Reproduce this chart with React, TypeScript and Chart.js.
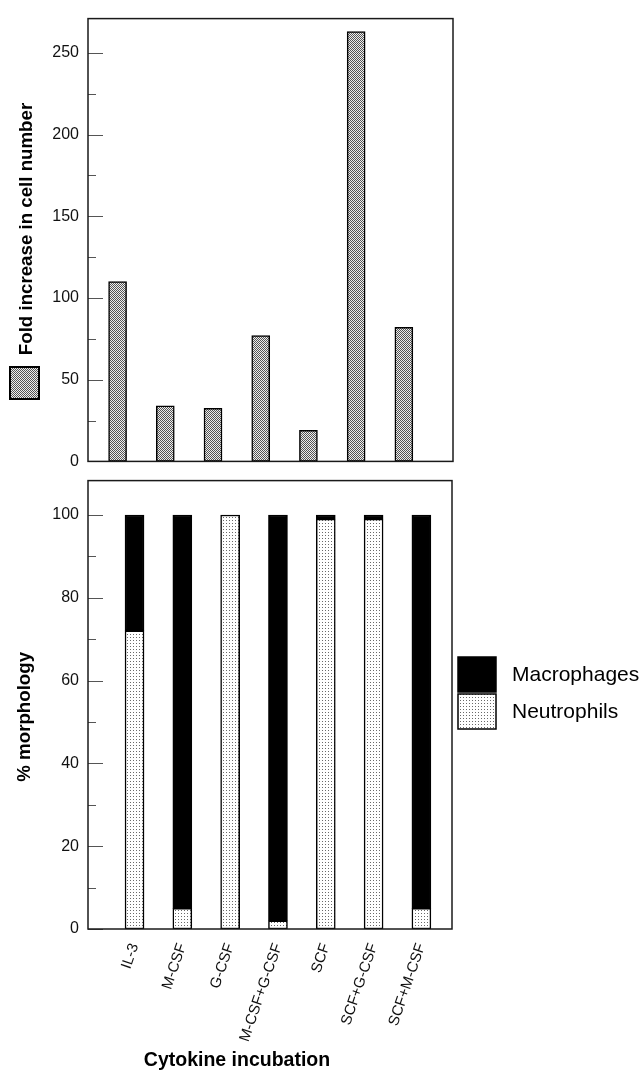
import React, { useEffect, useRef } from 'react';
import { Chart, registerables } from 'chart.js';

Chart.register(...registerables);

const categories = ['IL-3', 'M-CSF', 'G-CSF', 'M-CSF+G-CSF', 'SCF', 'SCF+G-CSF', 'SCF+M-CSF'];
const foldIncrease = [110, 34, 32.5, 77, 19, 263, 82];
const neutrophils = [72, 5, 100, 2, 99, 99, 5];
const macrophages = [28, 95, 0, 98, 1, 1, 95];
const foldTickValues = [0, 50, 100, 150, 200, 250];
const morphTickValues = [0, 20, 40, 60, 80, 100];

const FONT = '"Liberation Sans", Arial, Helvetica, sans-serif';

function makePattern(size: number, draw: (ctx: CanvasRenderingContext2D) => void) {
  const c = document.createElement('canvas');
  c.width = size;
  c.height = size;
  const ctx = c.getContext('2d')!;
  draw(ctx);
  const main = document.createElement('canvas').getContext('2d')!;
  return main.createPattern(c, 'repeat')!;
}

function grayPattern() {
  return makePattern(2, (ctx) => {
    ctx.fillStyle = '#eeeeee';
    ctx.fillRect(0, 0, 2, 2);
    ctx.fillStyle = '#555555';
    ctx.fillRect(0, 0, 1, 1);
    ctx.fillRect(1, 1, 1, 1);
  });
}

function dotPattern() {
  return makePattern(3, (ctx) => {
    ctx.fillStyle = '#ffffff';
    ctx.fillRect(0, 0, 3, 3);
    ctx.fillStyle = '#6a6a6a';
    ctx.fillRect(1, 1, 1, 1);
  });
}

const framePlugin = {
  id: 'frameTicks',
  afterDraw(chart: any, _args: any, opts: any) {
    const ctx = chart.ctx;
    const { left, right, top, bottom } = chart.chartArea;
    const y = chart.scales.y;
    ctx.save();
    // inward tick marks
    ctx.strokeStyle = '#555';
    ctx.lineWidth = 1;
    for (let v = 0; v <= y.max + 1e-6; v += opts.minorStep) {
      const py = Math.round(y.getPixelForValue(v)) + 0.5;
      const major = Math.abs(v / opts.majorStep - Math.round(v / opts.majorStep)) < 1e-6;
      ctx.beginPath();
      ctx.moveTo(left, py);
      ctx.lineTo(left + (major ? 15 : 8), py);
      ctx.stroke();
    }
    // frame
    ctx.strokeStyle = '#1a1a1a';
    ctx.lineWidth = 1.5;
    ctx.strokeRect(left, top, right - left, bottom - top);
    // y axis title
    const cy = (top + bottom) / 2 + opts.titleShift;
    ctx.translate(opts.titleX, cy);
    ctx.rotate(-Math.PI / 2);
    ctx.font = `bold 18.7px ${FONT}`;
    ctx.fillStyle = '#000';
    ctx.textAlign = 'center';
    ctx.textBaseline = 'middle';
    ctx.fillText(opts.title, 0, 0);
    ctx.restore();
  },
};

const topLegendPlugin = {
  id: 'topLegendBox',
  afterDraw(chart: any, _args: any, opts: any) {
    const ctx = chart.ctx;
    ctx.save();
    ctx.fillStyle = opts.fill;
    ctx.fillRect(opts.x, opts.y, opts.w, opts.h);
    ctx.strokeStyle = '#000';
    ctx.lineWidth = 2;
    ctx.strokeRect(opts.x, opts.y, opts.w, opts.h);
    ctx.restore();
  },
};

const bottomExtrasPlugin = {
  id: 'bottomExtras',
  afterDraw(chart: any, _args: any, opts: any) {
    const ctx = chart.ctx;
    const { right } = chart.chartArea;
    ctx.save();
    // legend
    const bx = right + 6;
    const items = opts.items as { label: string; fill: any }[];
    items.forEach((it, i) => {
      const by = opts.legendTop + i * 37;
      ctx.fillStyle = it.fill;
      ctx.fillRect(bx, by, 38, 35);
      ctx.strokeStyle = '#000';
      ctx.lineWidth = 1.5;
      ctx.strokeRect(bx, by, 38, 35);
      ctx.fillStyle = '#000';
      ctx.font = `21px ${FONT}`;
      ctx.textBaseline = 'middle';
      ctx.textAlign = 'left';
      ctx.fillText(it.label, bx + 54, by + 18);
    });
    // x axis title
    ctx.font = `bold 19.5px ${FONT}`;
    ctx.textAlign = 'center';
    ctx.textBaseline = 'middle';
    ctx.fillStyle = '#000';
    ctx.fillText(opts.xTitle, opts.xTitleX, chart.height - 11);
    ctx.restore();
  },
};

export default function App() {
  const topRef = useRef<HTMLCanvasElement>(null);
  const botRef = useRef<HTMLCanvasElement>(null);

  useEffect(() => {
    const gray = grayPattern();
    const dots = dotPattern();

    const topChart = new Chart(topRef.current!, {
      type: 'bar',
      data: {
        datasets: [
          {
            label: 'Fold increase',
            data: foldIncrease.map((v, i) => ({ x: i + 1, y: v })),
            backgroundColor: gray,
            borderColor: '#000',
            borderWidth: 1.5,
            borderSkipped: false,
            barThickness: 18,
          },
        ],
      },
      options: {
        animation: false,
        responsive: false,
        events: [],
        layout: { padding: { top: 14, right: 189, bottom: 10, left: 0 } },
        plugins: {
          legend: { display: false },
          tooltip: { enabled: false },
          frameTicks: { minorStep: 25, majorStep: 50, title: 'Fold increase in cell number', titleX: 27, titleShift: -11 },
          topLegendBox: { fill: gray, x: 10, y: 367, w: 29, h: 32 },
        } as any,
        scales: {
          x: {
            type: 'linear',
            min: 0.38,
            max: 8.03,
            display: false,
            offset: false,
          },
          y: {
            min: 0,
            max: 271,
            afterFit: (s: any) => {
              s.width = 88;
            },
            afterBuildTicks: (s: any) => {
              s.ticks = foldTickValues.map((v) => ({ value: v }));
            },
            grid: { display: false, drawTicks: false },
            border: { display: false },
            ticks: {
              padding: 9,
              color: '#111',
              font: { family: FONT, size: 16 },
            },
            title: { display: false },
          },
        },
      },
      plugins: [framePlugin, topLegendPlugin],
    } as any);

    const botChart = new Chart(botRef.current!, {
      type: 'bar',
      data: {
        datasets: [
          {
            label: 'Neutrophils',
            data: neutrophils.map((v, i) => ({ x: i + 1, y: v })),
            backgroundColor: dots,
            borderColor: '#000',
            borderWidth: 1.5,
            borderSkipped: false,
            barThickness: 19,
            stack: 's',
          },
          {
            label: 'Macrophages',
            data: macrophages.map((v, i) => ({ x: i + 1, y: v })),
            backgroundColor: '#000',
            borderColor: '#000',
            borderWidth: 1.5,
            borderSkipped: false,
            barThickness: 19,
            stack: 's',
          },
        ],
      },
      options: {
        animation: false,
        responsive: false,
        events: [],
        layout: { padding: { top: 8, right: 190, bottom: 0, left: 0 } },
        plugins: {
          legend: { display: false },
          tooltip: { enabled: false },
          frameTicks: { minorStep: 10, majorStep: 20, title: '% morphology', titleX: 25, titleShift: 12 },
          bottomExtras: {
            items: [
              { label: 'Macrophages', fill: '#000' },
              { label: 'Neutrophils', fill: dots },
            ],
            legendTop: 195,
            xTitle: 'Cytokine incubation',
            xTitleX: 237,
          },
        } as any,
        scales: {
          x: {
            type: 'linear',
            min: 0.027,
            max: 7.64,
            offset: false,
            stacked: true,
            afterFit: (s: any) => {
              s.height = 143;
            },
            afterBuildTicks: (s: any) => {
              s.ticks = categories.map((_, i) => ({ value: i + 1 }));
            },
            grid: { display: false, drawTicks: false },
            border: { display: false },
            ticks: {
              autoSkip: false,
              minRotation: 71,
              maxRotation: 71,
              padding: 12,
              color: '#111',
              font: { family: FONT, size: 15 },
              callback: (v: any) => categories[Math.round(Number(v)) - 1] ?? '',
            },
          },
          y: {
            min: 0,
            max: 108.3,
            stacked: true,
            afterFit: (s: any) => {
              s.width = 88;
            },
            afterBuildTicks: (s: any) => {
              s.ticks = morphTickValues.map((v) => ({ value: v }));
            },
            grid: { display: false, drawTicks: false },
            border: { display: false },
            ticks: {
              padding: 9,
              color: '#111',
              font: { family: FONT, size: 16 },
            },
            title: { display: false },
          },
        },
      },
      plugins: [framePlugin, bottomExtrasPlugin],
    } as any);

    return () => {
      topChart.destroy();
      botChart.destroy();
    };
  }, []);

  return (
    <div style={{ position: 'absolute', left: 0, top: 0, width: 642, height: 1072, background: '#fff', overflow: 'hidden' }}>
      <canvas ref={topRef} width={642} height={480} style={{ position: 'absolute', left: 0, top: 0, width: 642, height: 480 }} />
      <canvas ref={botRef} width={642} height={610} style={{ position: 'absolute', left: 0, top: 462, width: 642, height: 610 }} />
    </div>
  );
}
